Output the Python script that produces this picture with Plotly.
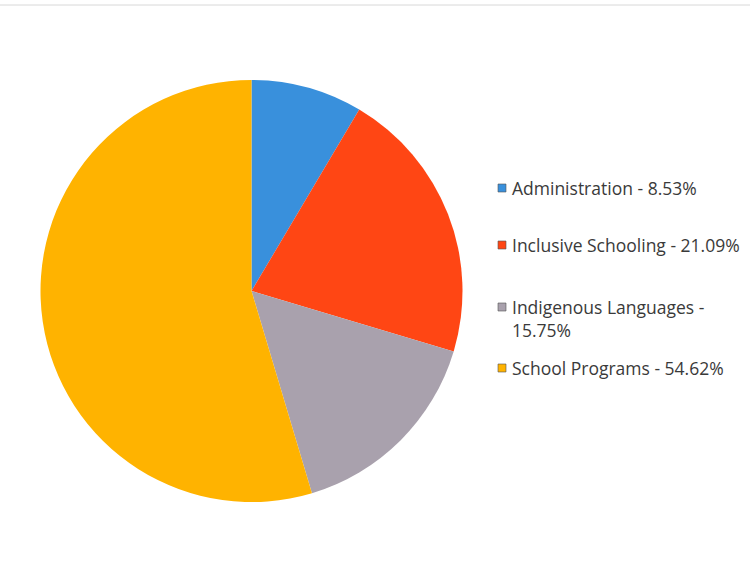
import plotly.graph_objects as go

# Budget shares by program area
categories = ["Administration", "Inclusive Schooling", "Indigenous Languages", "School Programs"]
shares = [8.53, 21.09, 15.75, 54.62]
colors = ["#3990DC", "#FF4614", "#A9A1AD", "#FFB300"]

# legend text, with the long label wrapped onto two lines
legend_text = [
    f"{c} -<br>{v:.2f}%" if c == "Indigenous Languages" else f"{c} - {v:.2f}%"
    for c, v in zip(categories, shares)
]
legend_y_px = [188, 245, 318, 368]  # vertical centre of each legend entry (px from top)

W, H = 750, 570

fig = go.Figure(
    go.Pie(
        labels=categories,
        values=shares,
        marker=dict(colors=colors, line=dict(width=0)),
        sort=False,
        direction="clockwise",
        rotation=0,
        textinfo="none",
        hoverinfo="label+percent",
        showlegend=False,
        domain=dict(x=[40 / W, 463 / W], y=[(H - 502) / H, (H - 80) / H]),
    )
)

annotations = []
shapes = []
for txt, col, ypx in zip(legend_text, colors, legend_y_px):
    yc = 1 - ypx / H
    first_line = 1 - (ypx - (11 if "<br>" in txt else 0)) / H
    shapes.append(dict(
        type="rect", xref="paper", yref="paper",
        x0=498 / W, x1=506 / W,
        y0=first_line - 4 / H, y1=first_line + 4 / H,
        fillcolor=col, line=dict(width=0.6, color="#555555"),
    ))
    annotations.append(dict(
        x=510 / W, y=yc, xref="paper", yref="paper",
        text=txt, showarrow=False, xanchor="left", yanchor="middle",
        align="left",
        font=dict(family="Open Sans", size=17.5, color="#3a3a3a"),
    ))

# thin frame line at the top edge
shapes.append(dict(type="line", xref="paper", yref="paper",
                   x0=0, x1=1, y0=1 - 5 / H, y1=1 - 5 / H,
                   line=dict(color="#d8d8d8", width=1)))

fig.update_layout(
    width=W, height=H,
    margin=dict(l=0, r=0, t=0, b=0),
    paper_bgcolor="white",
    plot_bgcolor="white",
    annotations=annotations,
    shapes=shapes,
)

fig.write_html("out.html")
